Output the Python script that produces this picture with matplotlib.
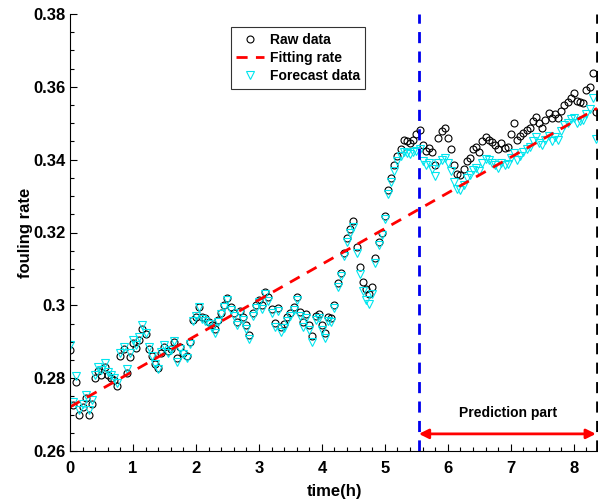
import numpy as np
import matplotlib
matplotlib.use('Agg')
import matplotlib.pyplot as plt
from matplotlib.ticker import MultipleLocator

plt.rcParams['font.family'] = ['Liberation Sans', 'DejaVu Sans']
plt.rcParams['font.weight'] = 'bold'

# sampling time (h), one point every 0.05 h
t_start, t_step, n_pts = 0.0, 0.05, 168
time_h = t_start + t_step * np.arange(n_pts)

raw_data = [
    0.2877, 0.2725, 0.2790, 0.2700, 0.2720, 0.2745, 0.2700, 0.2730, 0.2800, 0.2820,
    0.2810, 0.2830, 0.2810, 0.2800, 0.2795, 0.2778, 0.2860, 0.2880, 0.2815, 0.2858,
    0.2897, 0.2883, 0.2905, 0.2935, 0.2920, 0.2880, 0.2860, 0.2840, 0.2828, 0.2870,
    0.2885, 0.2875, 0.2880, 0.2900, 0.2855, 0.2885, 0.2870, 0.2860, 0.2898, 0.2960,
    0.2968, 0.2995, 0.2968, 0.2965, 0.2954, 0.2946, 0.2935, 0.2960, 0.2980, 0.3000,
    0.3020, 0.2995, 0.2980, 0.2955, 0.2985, 0.2968, 0.2946, 0.2918, 0.2980, 0.3000,
    0.3015, 0.3000, 0.3037, 0.3023, 0.2990, 0.2952, 0.2993, 0.2940, 0.2950, 0.2968,
    0.2980, 0.2995, 0.3023, 0.2982, 0.2954, 0.2975, 0.2945, 0.2915, 0.2970, 0.2975,
    0.2945, 0.2925, 0.2968, 0.2965, 0.3000, 0.3060, 0.3090, 0.3145, 0.3185, 0.3210,
    0.3232, 0.3160, 0.3105, 0.3065, 0.3045, 0.3030, 0.3050, 0.3130, 0.3175, 0.3200,
    0.3245, 0.3317, 0.3350, 0.3385, 0.3410, 0.3430, 0.3454, 0.3450, 0.3445, 0.3455,
    0.3470, 0.3482, 0.3440, 0.3425, 0.3432, 0.3420, 0.3385, 0.3460, 0.3480, 0.3487,
    0.3460, 0.3430, 0.3385, 0.3360, 0.3358, 0.3375, 0.3395, 0.3405, 0.3430, 0.3435,
    0.3422, 0.3452, 0.3462, 0.3455, 0.3449, 0.3440, 0.3430, 0.3446, 0.3432, 0.3436,
    0.3470, 0.3500, 0.3455, 0.3466, 0.3474, 0.3482, 0.3488, 0.3505, 0.3517, 0.3500,
    0.3487, 0.3510, 0.3528, 0.3515, 0.3525, 0.3515, 0.3535, 0.3550, 0.3558, 0.3570,
    0.3583, 0.3562, 0.3559, 0.3556, 0.3590, 0.3600, 0.3638, 0.3530,
]

forecast_data = [
    0.2890, 0.2735, 0.2805, 0.2712, 0.2730, 0.2755, 0.2712, 0.2740, 0.2810, 0.2830,
    0.2822, 0.2842, 0.2818, 0.2810, 0.2800, 0.2788, 0.2870, 0.2885, 0.2825, 0.2868,
    0.2905, 0.2890, 0.2912, 0.2945, 0.2925, 0.2885, 0.2862, 0.2840, 0.2825, 0.2872,
    0.2890, 0.2870, 0.2876, 0.2902, 0.2845, 0.2880, 0.2866, 0.2855, 0.2895, 0.2958,
    0.2970, 0.2995, 0.2962, 0.2958, 0.2948, 0.2938, 0.2925, 0.2955, 0.2976, 0.2995,
    0.3015, 0.2988, 0.2972, 0.2946, 0.2978, 0.2960, 0.2935, 0.2908, 0.2972, 0.2994,
    0.3008, 0.2990, 0.3030, 0.3012, 0.2978, 0.2940, 0.2985, 0.2926, 0.2938, 0.2958,
    0.2970, 0.2986, 0.3015, 0.2970, 0.2940, 0.2965, 0.2932, 0.2900, 0.2960, 0.2965,
    0.2932, 0.2910, 0.2958, 0.2955, 0.2992, 0.3050, 0.3080, 0.3135, 0.3175, 0.3200,
    0.3215, 0.3145, 0.3085, 0.3040, 0.3015, 0.3005, 0.3030, 0.3115, 0.3165, 0.3192,
    0.3238, 0.3305, 0.3340, 0.3370, 0.3395, 0.3410, 0.3420, 0.3418, 0.3415, 0.3420,
    0.3425, 0.3430, 0.3395, 0.3385, 0.3390, 0.3375, 0.3355, 0.3390, 0.3400, 0.3405,
    0.3392, 0.3370, 0.3340, 0.3320, 0.3318, 0.3330, 0.3350, 0.3358, 0.3372, 0.3378,
    0.3370, 0.3390, 0.3402, 0.3398, 0.3392, 0.3385, 0.3378, 0.3392, 0.3385, 0.3388,
    0.3405, 0.3418, 0.3400, 0.3410, 0.3420, 0.3428, 0.3435, 0.3450, 0.3462, 0.3445,
    0.3440, 0.3455, 0.3465, 0.3450, 0.3462, 0.3455, 0.3480, 0.3495, 0.3500, 0.3512,
    0.3515, 0.3500, 0.3505, 0.3508, 0.3525, 0.3540, 0.3570, 0.3458,
]

# linear fitting rate, end points
fit_x = [0.0, 8.37]
fit_y = [0.2721, 0.3541]

split_time = 5.54   # start of prediction
end_time = 8.37

fig = plt.figure(figsize=(5.98, 5.04), dpi=100)
ax = fig.add_axes([70/598, 53/504, 529/598, 437/504])

h_raw, = ax.plot(time_h, raw_data, 'o', mfc='none', mec='black', ms=5, mew=0.8,
                 label='Raw data')
h_fore, = ax.plot(time_h, forecast_data, 'v', mfc='none', mec='#00e5ee', ms=5.5, mew=0.8,
                  label='Forecast data')
h_fit, = ax.plot(fit_x, fit_y, '--', color='red', lw=2, dashes=(4, 3), label='Fitting rate')

ax.axvline(split_time, color='#0000ee', ls='--', lw=2, dashes=(4, 3))
ax.axvline(end_time, color='black', ls='--', lw=2, dashes=(4, 3))

ax.annotate('', xy=(split_time, 0.2647), xytext=(end_time - 0.02, 0.2647),
            arrowprops=dict(arrowstyle='<|-|>', color='red', lw=2,
                            mutation_scale=14, shrinkA=0, shrinkB=0))
ax.text(6.95, 0.2703, 'Prediction part', ha='center', va='center',
        fontsize=10, fontweight='bold')

ax.set_xlim(0, 8.4)
ax.set_ylim(0.26, 0.38)
ax.set_xticks(range(0, 9))
ax.set_yticks([0.26, 0.28, 0.30, 0.32, 0.34, 0.36, 0.38])
ax.set_yticklabels(['0.26', '0.28', '0.3', '0.32', '0.34', '0.36', '0.38'])
ax.xaxis.set_minor_locator(MultipleLocator(0.2))
ax.yaxis.set_minor_locator(MultipleLocator(0.005))
ax.tick_params(which='both', direction='in', labelsize=12, width=0.8)
ax.tick_params(which='major', length=5)
ax.tick_params(which='minor', length=3)
ax.tick_params(axis='x', which='major', pad=7)
for lab in ax.get_xticklabels() + ax.get_yticklabels():
    lab.set_fontweight('bold')
ax.spines['top'].set_visible(False)
ax.spines['right'].set_visible(False)

ax.set_xlabel('time(h)', fontsize=12, fontweight='bold', labelpad=6)
ax.set_ylabel('fouling rate', fontsize=12, fontweight='bold', labelpad=0)

leg = ax.legend(handles=[h_raw, h_fit, h_fore], loc='upper left',
                bbox_to_anchor=(0.291, 0.986), fontsize=10, frameon=True,
                fancybox=False, edgecolor='black', handlelength=2.0,
                borderpad=0.4, labelspacing=0.3, handletextpad=0.4)
leg.get_frame().set_linewidth(0.8)
for txt in leg.get_texts():
    txt.set_fontweight('bold')

fig.savefig('out.png', dpi=100)
